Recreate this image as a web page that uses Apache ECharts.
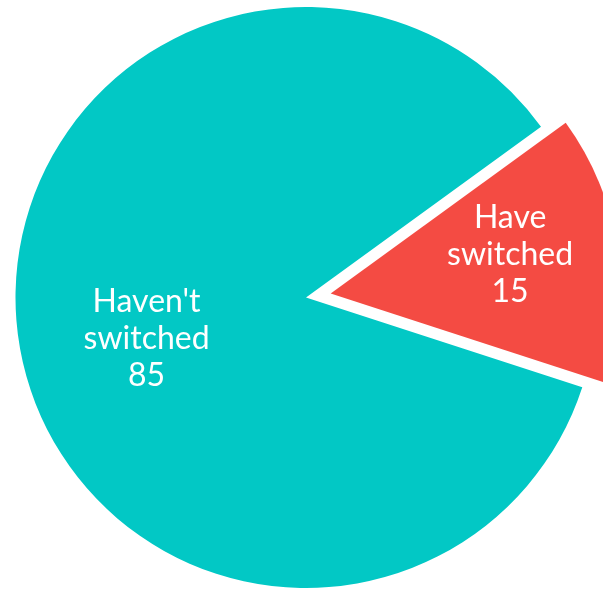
<!DOCTYPE html>
<html>
<head>
<meta charset="utf-8">
<script src="https://cdn.jsdelivr.net/npm/echarts@6/dist/echarts.min.js"></script>
<style>
html,body{margin:0;padding:0;background:#fff;}
#chart{width:603px;height:589px;}
</style>
</head>
<body>
<div id="chart"></div>
<script>
const categories = ["Have switched", "Haven't switched"];
const labelTexts = ["Have\nswitched", "Haven't\nswitched"];
const values = [15, 85];
const colors = ["#F44B43", "#02C8C5"];

const chart = echarts.init(document.getElementById('chart'));
const data = categories.map((c, i) => ({
  name: c,
  value: values[i],
  selected: i === 0,
  itemStyle: { color: colors[i] },
  label: i === 0 ? { padding: [0, 0, 0, 66] } : { padding: [0, 26, 0, 0] }
}));

chart.setOption({
  animation: false,
  series: [{
    type: 'pie',
    center: [306, 297.5],
    radius: [0, 290.5],
    startAngle: 36,
    clockwise: true,
    selectedMode: 'single',
    selectedOffset: 25,
    itemStyle: { borderWidth: 0 },
    emphasis: { disabled: true },
    label: {
      show: true,
      position: 'inside',
      color: '#ffffff',
      fontFamily: 'Lato',
      fontSize: 32,
      lineHeight: 37,
      align: 'center',
      rich: {
        gapA: { lineHeight: 32, fontSize: 1 },
        gapB: { lineHeight: 36, fontSize: 1 }
      },
      formatter: function (p) {
        const t = labelTexts[p.dataIndex] + '\n' + p.value;
        return p.dataIndex === 0 ? t + '\n{gapA| }' : '{gapB| }\n' + t;
      }
    },
    labelLine: { show: false },
    data: data
  }]
});
</script>
</body>
</html>
